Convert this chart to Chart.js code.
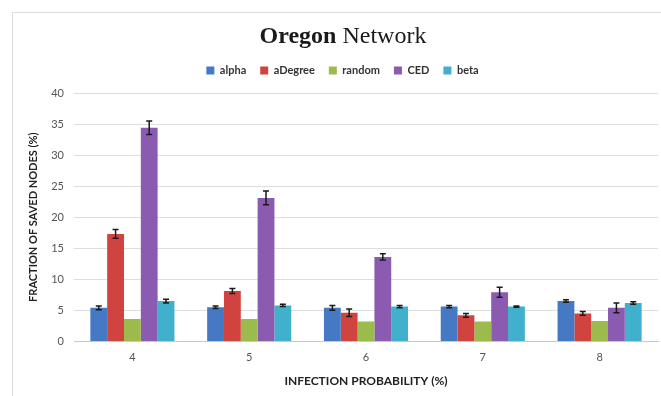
<!DOCTYPE html>
<html>
<head>
<meta charset="utf-8">
<script src="https://cdn.jsdelivr.net/npm/chart.js@4/dist/chart.umd.min.js"></script>
<style>
    html, body { margin: 0; padding: 0; background: #fff; }
    #wrap { width: 661px; height: 396px; position: relative; }
</style>
</head>
<body>
<div id="wrap"><canvas id="chart"></canvas></div>
<script>
// 데이터
const categories = ['4', '5', '6', '7', '8'];
const alpha   = [5.4, 5.5, 5.4, 5.6, 6.5];
const aDegree = [17.3, 8.1, 4.6, 4.2, 4.5];
const random  = [3.6, 3.6, 3.2, 3.2, 3.3];
const ced     = [34.4, 23.1, 13.6, 7.9, 5.4];
const beta    = [6.5, 5.8, 5.6, 5.6, 6.2];

// 오차 막대 (±)
const alphaErr   = [0.3, 0.2, 0.4, 0.2, 0.2];
const aDegreeErr = [0.7, 0.4, 0.6, 0.3, 0.3];
const randomErr  = [0, 0, 0, 0, 0];
const cedErr     = [1.1, 1.1, 0.5, 0.8, 0.8];
const betaErr    = [0.3, 0.2, 0.2, 0.1, 0.2];

const yTicks = [0, 5, 10, 15, 20, 25, 30, 35, 40];

const textFont = 'Lato, "Open Sans", sans-serif';

// 오차 막대 그리기
const errorBars = {
    id: 'errorBars',
    afterDatasetsDraw(chart) {
        const ctx = chart.ctx;
        const y = chart.scales.y;
        ctx.save();
        ctx.strokeStyle = '#1a1a1a';
        ctx.lineWidth = 1.5;
        chart.data.datasets.forEach((ds, i) => {
            const meta = chart.getDatasetMeta(i);
            meta.data.forEach((bar, j) => {
                const e = ds.errors[j];
                if (!e) return;
                const top = y.getPixelForValue(ds.data[j] + e);
                const bottom = y.getPixelForValue(ds.data[j] - e);
                ctx.beginPath();
                ctx.moveTo(bar.x, top);
                ctx.lineTo(bar.x, bottom);
                ctx.moveTo(bar.x - 3, top);
                ctx.lineTo(bar.x + 3, top);
                ctx.moveTo(bar.x - 3, bottom);
                ctx.lineTo(bar.x + 3, bottom);
                ctx.stroke();
            });
        });
        ctx.restore();
    }
};

// 범례 아래 여백 조정
const legendGap = {
    id: 'legendGap',
    afterInit(chart) {
        const fit = chart.legend.fit;
        chart.legend.fit = function () {
            fit.call(this);
            this.height += 7;
        };
    }
};

// 제목 + 테두리
const titlePlugin = {
    id: 'titlePlugin',
    afterDraw(chart) {
        const ctx = chart.ctx;
        ctx.save();
        ctx.strokeStyle = '#dcdcdc';
        ctx.lineWidth = 1;
        ctx.strokeRect(12.5, 12.5, 700, 420);

        const boldFont = 'bold 24px "Liberation Serif", "DejaVu Serif", serif';
        const normFont = '24px "Liberation Serif", "DejaVu Serif", serif';
        ctx.font = boldFont;
        const w1 = ctx.measureText('Oregon').width;
        ctx.font = normFont;
        const w2 = ctx.measureText(' Network').width;
        const cx = 343;
        const x0 = cx - (w1 + w2) / 2;
        ctx.fillStyle = '#1a1a1a';
        ctx.textBaseline = 'middle';
        ctx.textAlign = 'left';
        ctx.font = boldFont;
        ctx.fillText('Oregon', x0, 37);
        ctx.font = normFont;
        ctx.fillText(' Network', x0 + w1, 37);
        ctx.restore();
    }
};

function makeSet(label, data, errors, color) {
    return {
        label: label,
        data: data,
        errors: errors,
        backgroundColor: color,
        borderWidth: 0,
        categoryPercentage: 0.72,
        barPercentage: 1.0
    };
}

new Chart(document.getElementById('chart'), {
    type: 'bar',
    data: {
        labels: categories,
        datasets: [
            makeSet('alpha', alpha, alphaErr, '#4579c4'),
            makeSet('aDegree', aDegree, aDegreeErr, '#d0433f'),
            makeSet('random', random, randomErr, '#9bbb4c'),
            makeSet('CED', ced, cedErr, '#8a5bb0'),
            makeSet('beta', beta, betaErr, '#40b0cc')
        ]
    },
    options: {
        responsive: true,
        maintainAspectRatio: false,
        animation: false,
        layout: { padding: { top: 51, left: 27, right: 3, bottom: 8 } },
        plugins: {
            title: { display: false },
            tooltip: { enabled: false },
            legend: {
                position: 'top',
                labels: {
                    boxWidth: 8,
                    boxHeight: 8,
                    padding: 14,
                    color: '#333',
                    font: { family: textFont, size: 11, weight: 'bold' }
                }
            }
        },
        scales: {
            x: {
                grid: { display: false, drawTicks: false },
                border: { color: '#c8c8c8' },
                ticks: { color: '#555', padding: 9, font: { family: textFont, size: 11 } },
                title: {
                    display: true,
                    text: 'INFECTION PROBABILITY (%)',
                    color: '#222',
                    padding: { top: 1, bottom: 0 },
                    font: { family: textFont, size: 12, weight: 'bold' }
                }
            },
            y: {
                min: 0,
                max: 40,
                afterBuildTicks(axis) {
                    axis.ticks = yTicks.map(v => ({ value: v }));
                },
                afterFit(axis) { axis.width = 47; },
                grid: { color: '#dedede', drawTicks: false },
                border: { display: false },
                ticks: { color: '#555', padding: 10, font: { family: textFont, size: 11 } },
                title: {
                    display: true,
                    text: 'FRACTION OF SAVED NODES (%)',
                    color: '#222',
                    padding: { top: 0, bottom: 4 },
                    font: { family: textFont, size: 11, weight: 'bold' }
                }
            }
        }
    },
    plugins: [legendGap, errorBars, titlePlugin]
});
</script>
</body>
</html>
